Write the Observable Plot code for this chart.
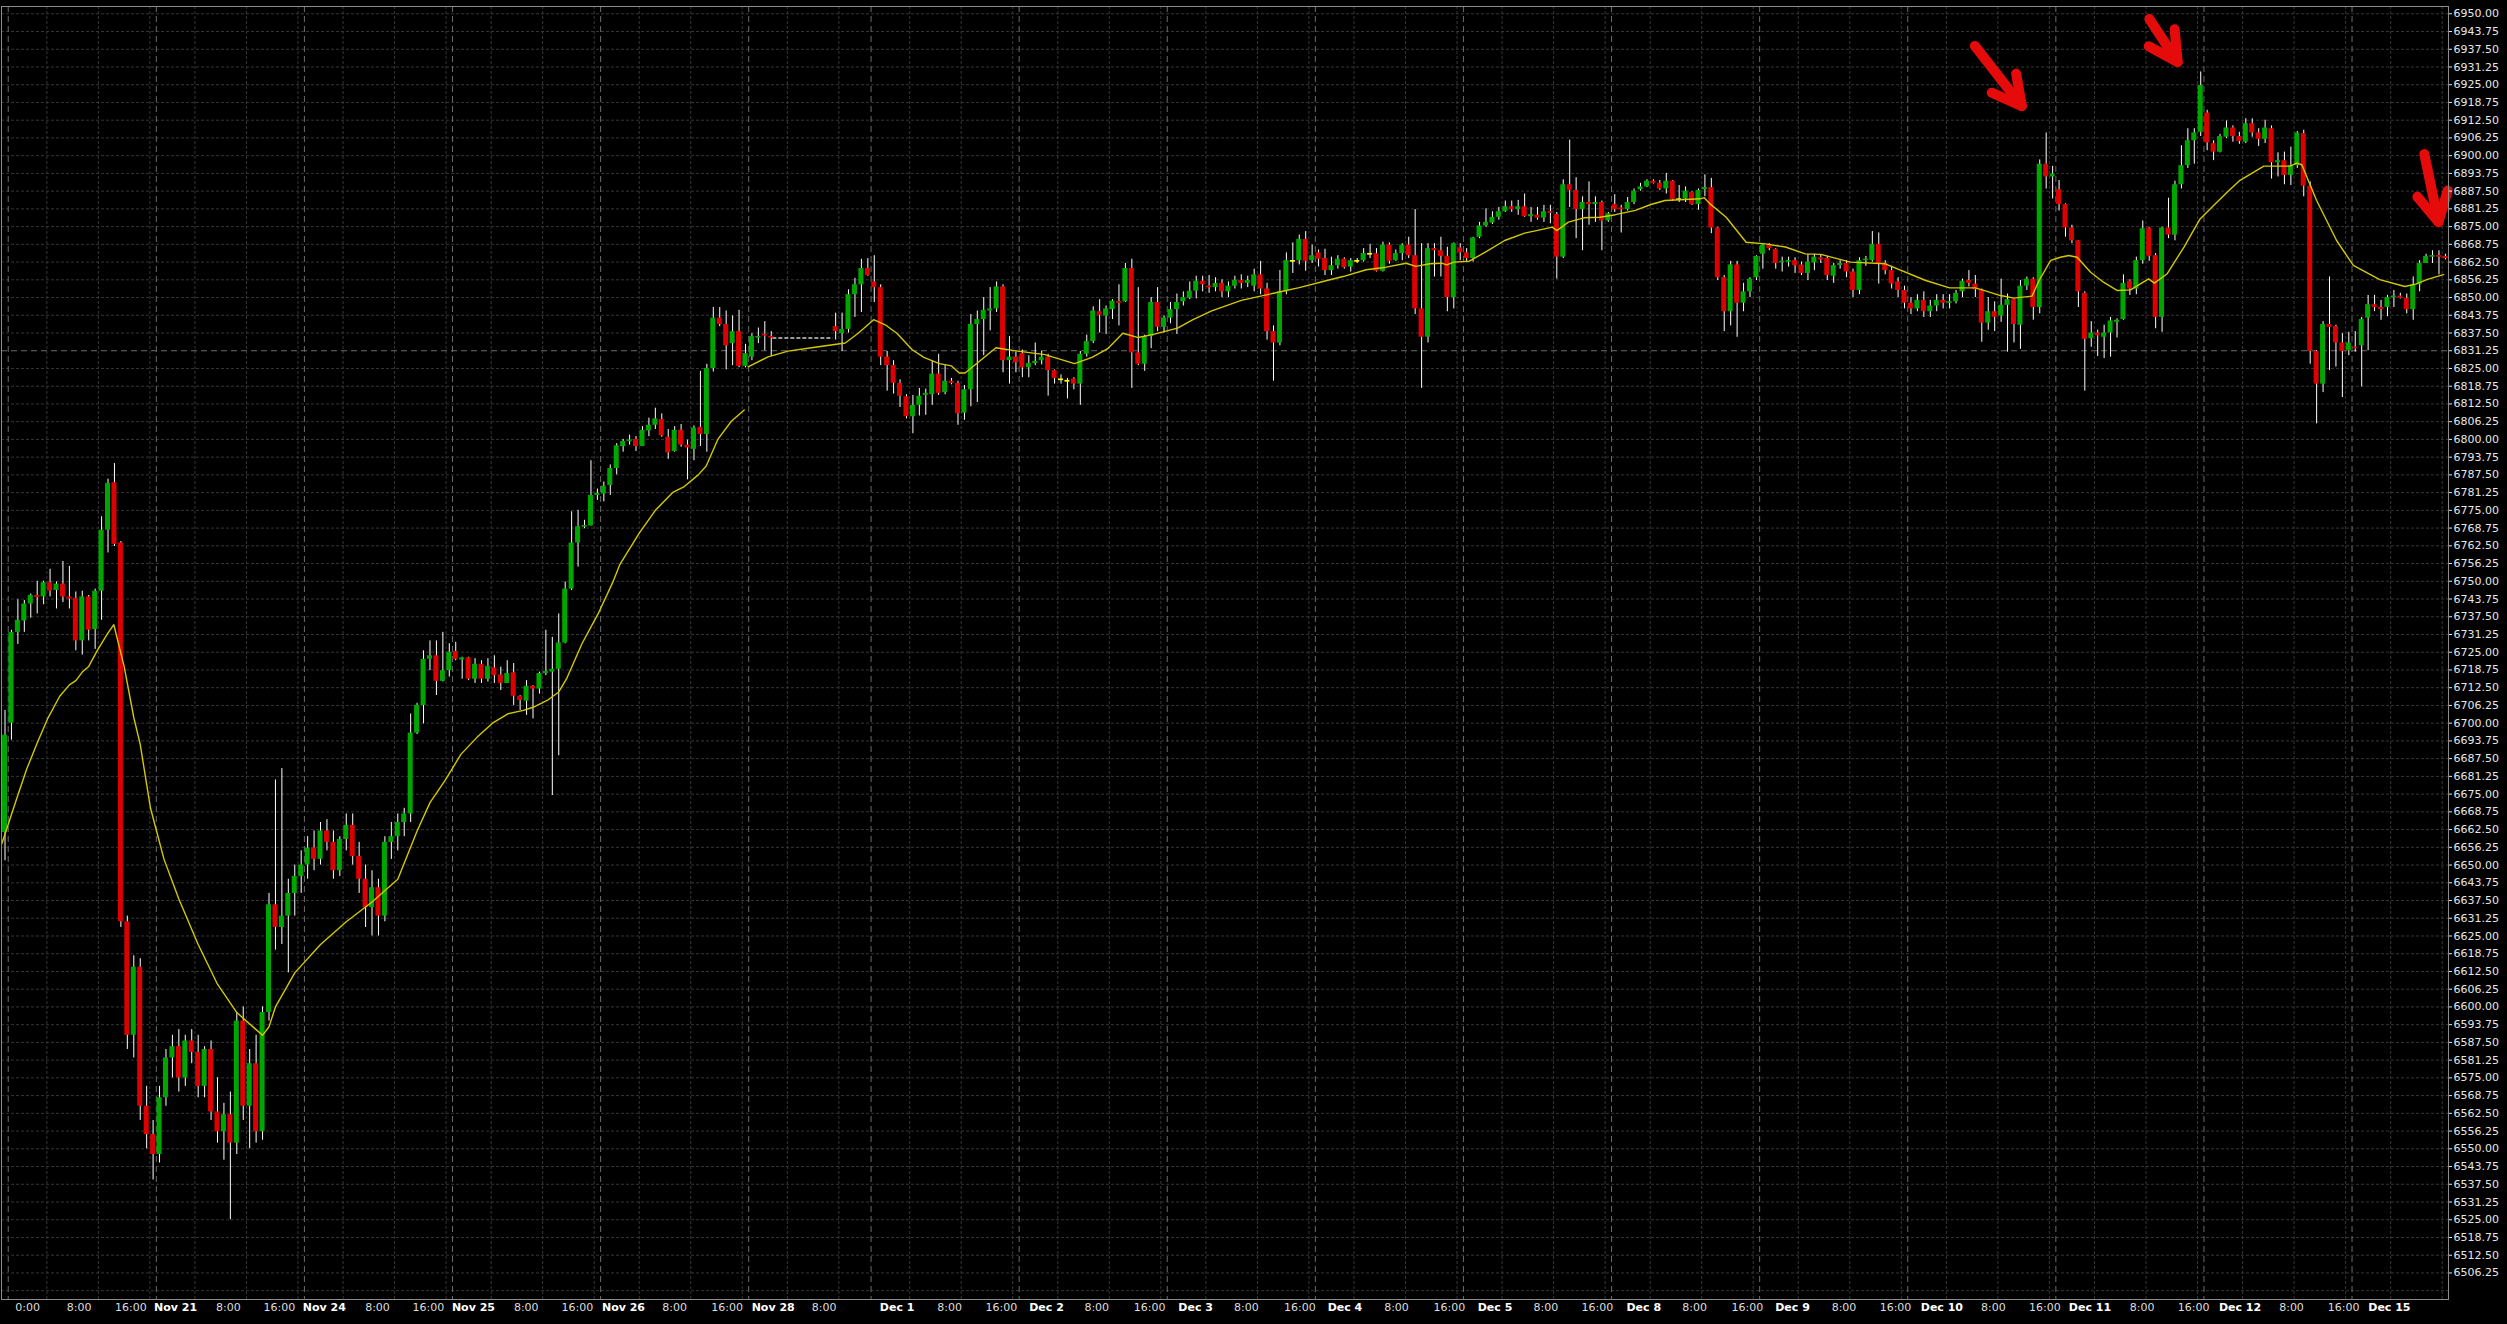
<!DOCTYPE html>
<html>
<head>
<meta charset="utf-8">
<style>
html,body{margin:0;padding:0;background:#000;}
#chart svg{display:block;}
</style>
<script src="https://cdn.jsdelivr.net/npm/d3@7"></script>
<script src="https://cdn.jsdelivr.net/npm/@observablehq/plot@0.6"></script>
</head>
<body>
<div id="chart"></div>
<script>
// ---- Hourly ES candles [open, high, low, close], one array per session ----
const nov19Tail = [[6661.5,6704.5,6651.5,6695.75]];
const nov20 = [
[6700,6732.75,6694,6732],[6732,6743.5,6727.75,6736.25],[6736,6743.25,6732,6742],[6742,6745.5,6737,6745],
[6745,6750,6738.5,6744.25],[6744.5,6750,6741.75,6749.5],[6749.5,6754.25,6744.5,6746.5],[6746.75,6749.75,6740.25,6749],
[6749,6757,6742.5,6744.5],[6744.5,6755.25,6740.25,6743.75],[6744,6746.25,6725.5,6729],[6729,6746.5,6724,6744.5],
[6744.5,6745,6729,6732.75],[6733,6747.25,6726,6746.5],[6746.5,6772.75,6736.25,6768],[6768,6786,6760,6784.5],
[6784.75,6791.5,6762.25,6763],[6763.5,6764,6628,6630],[6630,6632,6585,6590],[6590,6618,6582,6614],
[6614,6617,6560,6565],[6565,6572,6550,6555],[6555,6560,6539,6548]];
const nov21 = [
[6548,6572,6545,6568],[6568,6585,6565,6582],[6582,6590,6575,6586],[6586,6592,6570,6575],
[6575,6590,6572,6588],[6588,6592,6580,6584],[6584,6590,6568,6572],[6572,6586,6568,6585],
[6585,6588,6560,6563],[6563,6575,6552,6556],[6556,6566,6546,6562],[6562,6570,6525,6552],
[6552,6598,6548,6595],[6595,6600,6560,6565],[6565,6585,6550,6580],[6580,6590,6552,6556],
[6556,6600,6553,6598],[6598,6640,6595,6636],[6636,6680,6620,6628],[6628,6684,6622,6632],
[6632,6645,6612,6640],[6640,6650,6632,6646],[6646,6655,6640,6650]];
const nov24 = [
[6650,6660,6645,6656],[6656,6662,6648,6652],[6652,6665,6650,6662],[6662,6666,6655,6658],
[6658,6662,6645,6648],[6648,6660,6646,6659],[6659,6668,6655,6664],[6664,6668,6650,6653],
[6653,6658,6640,6645],[6645,6650,6628,6635],[6635,6648,6625,6642],[6642,6645,6625,6632],
[6632,6660,6630,6658],[6658,6665,6652,6660],[6660,6668,6655,6665],[6665,6670,6660,6668],
[6668,6703.25,6665,6696.5],[6696.5,6707,6696,6706.25],[6706.25,6725.5,6699.75,6722.5],[6722.5,6729,6718.5,6723.75],
[6723.75,6729,6709.75,6714.75],[6714.75,6732,6714.5,6718.5],[6718.5,6728,6716.25,6725]];
const nov25 = [
[6725.25,6728.5,6722,6722.5],[6722.25,6723.25,6715.5,6723],[6723,6723.25,6715,6715.5],[6715.5,6722.75,6714,6720.75],
[6720.75,6722,6714,6715.5],[6715.5,6722.75,6714.5,6720],[6719.5,6723.75,6714,6716.75],[6717,6719.75,6711.5,6714],
[6714,6722,6714,6717.5],[6717.75,6721,6706.25,6709.5],[6709.5,6709.75,6704.5,6708],[6707.75,6715,6702.75,6713],
[6713,6713.25,6701.5,6712],[6712,6718,6710.25,6717.5],[6717.5,6732.75,6716.75,6718.25],[6718,6730.25,6674.5,6719],
[6719,6738.5,6688.5,6728.25],[6728.25,6749.75,6728,6747.25],[6747.25,6774.5,6746.75,6763.5],[6763.5,6775,6755,6769.25],
[6769.25,6771.5,6768.5,6769.5],[6769.5,6792.5,6769.5,6780.25],[6780.25,6782.5,6778.5,6781]];
const nov26 = [
[6780.75,6785,6778,6783.5],[6783.75,6791,6780.25,6789.75],[6789.75,6798.5,6787.5,6797.75],[6797.5,6800,6795.5,6799.25],
[6799.25,6801.5,6798,6799.75],[6800,6801,6795.75,6797.5],[6797.5,6804.5,6797.5,6803.25],[6803,6807.5,6801,6805],
[6805,6811,6803.5,6807.25],[6807,6809,6800.75,6801.25],[6800.75,6803.5,6793,6795.25],[6795.75,6804.5,6795.5,6803.25],
[6803.25,6805.25,6797.25,6798],[6798,6799.75,6785.75,6797],[6796.5,6804.75,6792.5,6804],[6804.25,6824,6797.5,6801.75],
[6801.75,6826.5,6795.5,6825],[6825,6846.5,6823.75,6842.75],[6842.75,6846.5,6839.75,6840.5],[6840.5,6845.25,6824.5,6833],
[6833.75,6843.5,6826,6838],[6838,6845.5,6825.25,6825.75],[6825.75,6833.5,6825.25,6830.25]];
// Nov 28: nine hours without data (exchange outage)
const nov28 = [
[6829,6837.25,6827.75,6836.25],[6835.75,6839.25,6833.75,6836.25],[6837,6841.5,6831.25,6836.5],[6836.25,6838,6829.25,6835.75],
null,null,null,null,null,null,null,null,null,
[6839.75,6844.5,6835,6838],[6837.25,6844.5,6831,6838.75],[6838.75,6852.75,6837.5,6851],[6851,6856.75,6843,6854.5],
[6854.5,6863.5,6844.75,6860.25],[6860.25,6863.75,6857.5,6857.75]];
const dec1 = [
[6855.5,6864.75,6848.25,6853.5],[6853.5,6854.5,6826,6829],[6829,6831,6817,6826],[6826,6827.75,6816,6819.75],
[6819.75,6821,6811.25,6815.25],[6815,6815.75,6807.25,6808],[6808,6815.5,6802,6812],[6812,6818,6808.25,6815.25],
[6815.5,6817.75,6808.5,6816.25],[6815.75,6827.5,6812,6823],[6823,6830,6815.5,6816.25],[6816.5,6826,6815.75,6820.5],
[6820.5,6821.5,6819.25,6819.75],[6819.75,6820.5,6805,6809],[6809.25,6819,6806.75,6817.5],[6817.5,6844,6811.5,6840.5],
[6840.5,6845.25,6813,6842.25],[6842.25,6850,6829.5,6845.5],[6845.25,6853.5,6838.25,6846],[6846,6855.5,6844.75,6853.75],
[6853.75,6854.5,6823.5,6827.75],[6827.75,6836.25,6819.5,6829],[6829,6830.75,6823.5,6827]];
const dec2 = [
[6830.25,6831.5,6821.75,6825.25],[6825.25,6829.5,6821.75,6826.75],[6826.75,6834,6826,6827.5],[6827.75,6831,6826.25,6829],
[6829,6830,6815.25,6824.25],[6824.25,6824.5,6819.5,6821.5],[6821,6822.75,6819.5,6821],[6820.5,6821.5,6814.25,6820.5],
[6821.25,6821.75,6817.5,6819.5],[6819.5,6831,6812,6830],[6830,6836.75,6829,6834.5],[6834.5,6846.75,6833.75,6845.25],
[6845,6849.25,6837.5,6843.75],[6843.5,6847,6837,6846],[6845.75,6849.25,6842.25,6848.75],[6848.5,6854.5,6840,6848],
[6848.5,6862,6848.25,6860.25],[6860.25,6863.5,6818,6830.5],[6830.5,6853.5,6826,6826.5],[6826.5,6836.75,6824,6836.25],
[6836.25,6850,6832,6848.25],[6848.25,6853.5,6838,6839.5],[6839.5,6843.5,6837.5,6842.75]];
const dec3 = [
[6842.75,6848.25,6840.75,6845.75],[6845.75,6851.25,6837,6848.25],[6848.5,6852,6847,6850],[6849.75,6855.5,6849.25,6852.25],
[6852.25,6857.5,6849.5,6855.75],[6855.75,6857.5,6852,6854.5],[6854,6857.75,6851.5,6853.5],[6853.5,6857,6852,6855],
[6855,6856.25,6850,6852],[6852,6855.5,6850,6854],[6854,6857.5,6853,6856],[6856,6858,6853,6855],
[6855,6857.5,6853.5,6856],[6854,6860,6852,6858],[6858,6862.75,6851,6853],[6853,6855,6835,6838],
[6838,6840,6820.5,6834],[6834,6859.5,6833,6852],[6852,6865.75,6851,6863],[6862.75,6869.25,6858.5,6862.75],
[6863,6872,6861.5,6870.5],[6870.5,6873.25,6859.25,6862.75],[6863,6868.5,6862,6864.75]];
const dec4 = [
[6865.75,6866.75,6860.75,6863.5],[6863.75,6867,6857.75,6859.5],[6859.5,6864.25,6857.75,6861.25],[6861.25,6864.75,6860,6863.5],
[6863.5,6864,6860,6860.5],[6860.75,6863.75,6859,6863],[6862.75,6863.75,6862,6862.75],[6863,6867.25,6862.5,6865.5],
[6865.25,6868.75,6863.75,6865.25],[6865.5,6867.25,6859,6859.25],[6859.25,6869.5,6859,6868.5],[6868.5,6869.25,6861.75,6862.75],
[6863,6866.75,6862.75,6865.5],[6865.5,6869,6863,6868.5],[6868.5,6871.25,6863.75,6864.75],[6864.75,6881,6844,6846],
[6846,6869,6818,6836],[6836,6869,6834,6867.25],[6867.25,6869,6857.25,6866.5],[6866.5,6871.25,6857.25,6864.5],
[6864.5,6867.75,6845,6850],[6850,6869.25,6846,6869],[6867.5,6869,6863,6865.75]];
const dec5 = [
[6865.75,6867.25,6862.5,6863.75],[6863.75,6871.25,6862.5,6871],[6871.25,6876.5,6870.75,6875.25],[6875.25,6881.25,6874.75,6876.5],
[6876.25,6880.25,6875.75,6878.25],[6878.25,6881.75,6877.25,6880.25],[6880.25,6884,6880,6882],[6882,6884,6880,6881],
[6881,6884.25,6879,6882],[6882,6886.5,6878.25,6878.5],[6878.5,6881.75,6876.5,6879.25],[6879,6881.75,6877.25,6878],
[6878,6882.5,6876.5,6880.25],[6880.25,6882.5,6876,6879.75],[6879.25,6880,6856.5,6864.25],[6864.25,6891.5,6863.75,6889.75],
[6889.75,6905.5,6881.75,6887.75],[6887.75,6892.25,6870.75,6881],[6881,6885.5,6866.5,6883.5],[6883.5,6890.75,6875.5,6882.75],
[6882.75,6885.5,6876.5,6883.5],[6883.5,6884,6866.5,6877],[6877,6880,6876.5,6879.5]];
const dec8 = [
[6882.75,6886.25,6880,6881],[6881.5,6882.5,6872.75,6881],[6881,6885.25,6880.5,6883.5],[6883.5,6888.25,6882.75,6887.5],
[6888,6890.25,6887.5,6889],[6889,6891.5,6888.75,6891],[6891,6891.5,6890,6890.25],[6890.25,6891.25,6887.75,6888.25],
[6888.25,6893.75,6886.5,6891],[6891,6891.25,6884,6884.5],[6884.5,6889.5,6883.5,6884.5],[6884.75,6889,6883.5,6887.5],
[6887,6887.25,6882.5,6882.75],[6882.75,6888.25,6880.75,6887.75],[6888,6893.25,6885.5,6888.75],[6888.75,6892,6872.5,6874.5],
[6874.5,6874.75,6856,6857],[6857,6857.75,6838,6845],[6845,6862.75,6840,6861.5],[6861.5,6862.75,6836,6848],
[6848,6855,6845,6852],[6852,6857,6850,6856.5],[6857,6864.75,6856,6864.5]];
const dec9 = [
[6865.25,6869,6860,6868.5],[6868.5,6869,6866.5,6867.25],[6867,6867.25,6860,6862],[6862.25,6864.25,6859,6862.75],
[6862.5,6864.25,6860.75,6863],[6863,6864,6858.5,6861.25],[6861.5,6862.5,6857.75,6858.5],[6858.5,6865.25,6856,6862.5],
[6862.25,6865.25,6859.5,6864.25],[6864,6865,6862,6863.25],[6863.75,6864.5,6856,6857.75],[6857.5,6862,6855,6861.25],
[6861.25,6863,6860,6862],[6862,6863,6857,6859],[6859,6860,6850,6852.5],[6852.5,6864,6851,6863],
[6863,6864.5,6861,6863.5],[6863,6873.25,6862.5,6868.75],[6868.75,6872.75,6854.75,6862],[6862,6863,6858,6859.5],
[6859.5,6861,6853,6854.75],[6855.5,6857,6850,6852.5],[6852.5,6854,6846,6848]];
const dec10 = [
[6848,6850,6844,6846],[6846,6851,6845,6849],[6849,6852,6843,6845],[6845,6849,6843,6847],
[6847,6851,6845,6849],[6849,6851,6846,6848],[6848,6851,6846,6848.5],[6848.5,6852.5,6847.75,6851.5],
[6852,6856.5,6850,6855.75],[6856,6859.5,6853.75,6855],[6854.75,6857.75,6850,6852.75],[6852.5,6853,6834.25,6841],
[6841,6850,6838.5,6845],[6845,6848.5,6838,6843],[6843.5,6856.5,6841.25,6847.25],[6847.25,6851.25,6830.75,6849.25],
[6849.25,6849.5,6834,6840.5],[6840.25,6856,6831.75,6854],[6854,6857.25,6852.5,6856.5],[6856.5,6857,6842,6846.5],
[6846.5,6898.5,6844.25,6897],[6897,6908,6888.25,6892.5],[6892.5,6896.25,6884.75,6893.5]];
const dec11 = [
[6888,6891.25,6880.5,6882.75],[6882.75,6883,6871.25,6874.5],[6874.5,6875.5,6869,6870],[6870,6870,6846.5,6852],
[6851.5,6852,6817,6835.25],[6835.5,6841.5,6832.5,6837.5],[6837.5,6838.5,6829.25,6836.5],[6836,6840.25,6828.5,6837.5],
[6837.5,6843,6829,6841.75],[6841.25,6842.5,6835.75,6842],[6842.25,6858,6842,6855],[6855.75,6856.25,6850.75,6853],
[6853,6864.25,6851,6863],[6863,6877,6861.75,6874.25],[6874.5,6874.75,6862.75,6864.5],[6864.75,6865.5,6839,6843],
[6843,6874.75,6837.75,6874.5],[6874.5,6885,6870.75,6872],[6872,6891,6870,6889.75],[6889.75,6903.5,6888.25,6896.5],
[6896.5,6909.5,6895.5,6905.25],[6905.25,6909.5,6897,6908],[6908.25,6929.5,6906.75,6924.75]];
const dec12 = [
[6915,6916,6901.75,6904.5],[6904.25,6905.25,6898.25,6901.25],[6901.25,6907.5,6901,6906.75],[6906.5,6912.25,6906,6909.75],
[6909.75,6910.5,6904.75,6906.75],[6906.75,6908.25,6904,6905],[6904.75,6913,6904.25,6911.25],[6911.25,6913,6906.5,6908],
[6908,6909.5,6903.25,6905.75],[6905.75,6912.5,6904.25,6909.75],[6909.5,6910.5,6891.75,6897.5],[6897.5,6901,6892.5,6898.25],
[6898.25,6901.25,6889.75,6893],[6893,6903,6889.5,6896.5],[6896.5,6908.5,6895.5,6908],[6907.75,6909,6885.5,6889.25],
[6889.25,6890.75,6826.5,6831],[6831,6831.25,6805.5,6819.5],[6819.5,6841.5,6816.5,6840.5],[6840.5,6857.25,6824.25,6839.5],
[6839.75,6840.25,6825.5,6834],[6834,6837.25,6814.75,6831],[6831.25,6837.75,6829.5,6834]];
const dec15 = [
[6832.5,6838,6830.75,6832],[6833,6843,6818.5,6842.25],[6842.75,6850.75,6831.25,6847.5],[6847.5,6850.75,6845,6846.5],
[6846.5,6849,6842,6845.75],[6846.5,6850.75,6843.25,6850],[6850,6852.5,6846.5,6850.5],[6850.5,6851.5,6849.5,6849.75],
[6849.75,6851.25,6844.25,6845.75],[6845.75,6857.25,6842,6854.5],[6854.5,6863,6852,6862],[6862,6865.25,6862,6864.5],
[6864.25,6866.5,6862,6864.75],[6864.75,6866.5,6858,6864.25],[6864.5,6865.25,6863.25,6863.75]];

const sessions = [nov20, nov21, nov24, nov25, nov26, nov28, dec1, dec2, dec3, dec4, dec5, dec8, dec9, dec10, dec11, dec12, dec15];

// ---- moving average, two pieces ----
const maBarA = [-0.5,0.3,1.9,3.4,5,6.6,8.5,10,11,12,13,14.3,15.9,16.9,18.5,20,21,22.6,24.7,27,30,33,36,39,40,41,42,45,49,53,57,61,64,66,68.4,70.8,73.3,75.7,78.1,80.5,82,84.2,86,87.2,89.6,92.1,94.4,95.5,98.5,101,103.7,105.5,107.7,108.9,110.7,112.8,114.8];
const maValA = [6657.5,6663,6674,6684,6693,6701.5,6709.5,6713.5,6715,6718,6720,6725.5,6731.5,6734.7,6720,6702,6692.5,6670,6652,6638,6622,6608,6598,6592,6590,6593,6600,6612,6622,6630,6637,6645,6662,6672,6680,6689,6695,6700,6703.3,6704.5,6705.6,6708,6711,6715.6,6728,6738.5,6749.7,6756,6767,6775,6781.3,6783.4,6787.6,6790.6,6800,6806.4,6810.4];
const maBarB = [115.4,118.5,121.6,125.8,130.5,132.5,134.9,136.7,138.5,140.9,142.7,145.1,147,148.2,149.1,153.9,156.7,161.5,166.1,168.8,171.2,173.6,176,178.5,182.1,184.5,187.4,192,197,201,205.3,207.8,211.4,214.5,217.6,219.1,221.3,223.1,223.9,225,227.4,229.9,232.9,236,239.1,240.3,241,242.8,245.2,247.7,250.1,253.2,255.6,257.8,263.3,263.9,264.8,267.3,270.4,273.4,276.5,279.6,282,286.6,292,298.3,302,306,307.3,309.9,312,314.8,315.9,317.7,319.2,320.5,321.8,323.9,325.9,328,330.1,332.9,333.8,335.8,338.4,340.9,343,345.1,347.1,350.8,354.9,355.9,356.7,359,362.1,364.7,368.8,372.7,374.5,376.1,378.7];
const maValB = [6825.6,6829.1,6831.1,6832.5,6834,6837.4,6842.2,6840.4,6837.4,6831.6,6828.9,6826.7,6825.9,6823.4,6823.4,6832.3,6831.3,6829.9,6826.7,6828.9,6831.9,6837.4,6835.9,6837.1,6839.2,6842.2,6845.3,6849,6851.5,6853.5,6856,6857.4,6859.8,6860.7,6862.1,6861,6861.9,6862.1,6861.5,6862.5,6862.8,6866,6870.1,6872.7,6874.2,6874.8,6873.6,6876.6,6878.1,6878.3,6879.2,6880.7,6882.8,6884.2,6884.8,6885.2,6883,6878.3,6869.5,6868.9,6867.8,6865.4,6865.2,6862.5,6861.9,6856,6853.4,6853.4,6852.5,6850.7,6849.8,6850.5,6856,6863.1,6864.2,6864.8,6864.2,6858.9,6855.4,6852.5,6852.7,6856.6,6855.1,6858.4,6867.8,6877.7,6882.4,6887.1,6891.3,6896.3,6896.3,6897.4,6896.8,6884.2,6870.1,6861.3,6856.3,6853.9,6854.8,6856.3,6858.1];

// ---- axis labels ----
const tickText = ["0:00","8:00","16:00","Nov 21","8:00","16:00","Nov 24","8:00","16:00","Nov 25","8:00","16:00","Nov 26","8:00","16:00","Nov 28","8:00","Dec 1","8:00","16:00","Dec 2","8:00","16:00","Dec 3","8:00","16:00","Dec 4","8:00","16:00","Dec 5","8:00","16:00","Dec 8","8:00","16:00","Dec 9","8:00","16:00","Dec 10","8:00","16:00","Dec 11","8:00","16:00","Dec 12","8:00","16:00","Dec 15"];
const tickAt = [3.5,11.5,19.55,26.5,34.7,42.6,49.6,57.85,65.75,72.75,80.95,88.9,96.05,104,112.15,119.3,127.2,138.55,146.7,154.75,161.75,169.55,177.75,184.9,192.8,201.1,208.1,216.1,224.3,231.4,239.3,247.3,254.5,262.4,270.6,277.6,285.6,293.6,300.8,308.8,316.8,323.8,331.9,339.9,347.1,355.1,363.2,370.3];
const priceStep = 6.25, priceMin = 6500, priceMax = 6950, labelMin = 6506.25;
const refLevel = 6831.25;

// ---- annotations: red arrows (tail bar/price -> tip bar/price) ----
const arrowTail = [[306.0,6938.5],[333.1,6948.0],[375.8,6900.4]];
const arrowTip  = [[313.3,6917.3],[337.5,6932.8],[378.0,6876.4]];

// ================== build ==================
const all = [...nov19Tail];
const dayStart = [];
for (const s of sessions) { dayStart.push(all.length); all.push(...s); }
const bars = [];
all.forEach((r, i) => { if (r) bars.push({i, o: r[0], h: r[1], l: r[2], c: r[3]}); });
bars.forEach(b => {
  const top = Math.max(b.o, b.c), bot = Math.min(b.o, b.c);
  if (top - bot < 0.6) { const m = (top + bot) / 2; b.top = m + 0.3; b.bot = m - 0.3; }
  else { b.top = top; b.bot = bot; }
});
const up = bars.filter(b => b.c > b.o), down = bars.filter(b => b.c < b.o), flat = bars.filter(b => b.c === b.o);

const missing = all.map((r, i) => r ? null : i).filter(i => i !== null);
const gapFrom = missing[0] - 1, gapTo = missing[missing.length - 1] + 1;

const dayLines = dayStart.map(s => s - 0.5);
const sessLen = sessions.map(s => s.length);
const intraLines = [];
dayStart.forEach((s, k) => { for (const off of [6, 14, 22]) if (off < sessLen[k]) intraLines.push(s + off - 0.5); });

const gridPrices = d3.range(priceMin, priceMax + 0.001, priceStep);
const labelPrices = gridPrices.filter(p => p >= labelMin);

const ma = [
  ...maBarA.map((u, k) => ({u, v: maValA[k], seg: "a"})),
  ...maBarB.map((u, k) => ({u, v: maValB[k], seg: "b"}))
];
const ticks = tickText.map((t, k) => ({u: tickAt[k], t, bold: /^[A-Z]/.test(t)}));
const arrows = arrowTail.map((a, k) => ({x1: a[0], y1: a[1], x2: arrowTip[k][0], y2: arrowTip[k][1]}));

const halfBody = 0.39;

function handArrows(index, scales) {
  const g = d3.create("svg:g")
    .attr("fill", "none").attr("stroke", "#e60b0b")
    .attr("stroke-width", 10).attr("stroke-linecap", "round").attr("stroke-linejoin", "round");
  for (const a of arrows) {
    const x1 = scales.x(a.x1), y1 = scales.y(a.y1), x2 = scales.x(a.x2), y2 = scales.y(a.y2);
    const ang = Math.atan2(y1 - y2, x1 - x2), L = 33, sp = 28 * Math.PI / 180;
    const w1 = [x2 + L * Math.cos(ang - sp), y2 + L * Math.sin(ang - sp)];
    const w2 = [x2 + L * Math.cos(ang + sp), y2 + L * Math.sin(ang + sp)];
    g.append("path").attr("d", `M${x1},${y1}L${x2},${y2}`);
    g.append("path").attr("d", `M${w1[0]},${w1[1]}L${x2},${y2}L${w2[0]},${w2[1]}`);
  }
  return g.node();
}

const chart = Plot.plot({
  width: 2507,
  height: 1324,
  marginTop: 6,
  marginBottom: 25,
  marginLeft: 1,
  marginRight: 59,
  style: {background: "#000", color: "#e0e0e0", fontFamily: "DejaVu Sans, sans-serif", fontSize: "11px"},
  x: {type: "linear", domain: [-0.5436, 379.48], axis: null},
  y: {type: "linear", domain: [6496.89, 6952.57], axis: null},
  marks: [
    Plot.ruleY(gridPrices.filter(p => p !== refLevel), {stroke: "#363636", strokeDasharray: "3,2"}),
    Plot.ruleX(intraLines, {stroke: "#363636", strokeDasharray: "3,2"}),
    Plot.ruleX(dayLines, {stroke: "#6c6c6c", strokeDasharray: "6,4"}),
    Plot.ruleY([refLevel], {stroke: "#6c6c6c", strokeDasharray: "6,4"}),
    Plot.ruleY([all[gapFrom][3]], {x1: gapFrom + 0.25, x2: gapTo - 0.4, stroke: "#9a9a9a", strokeWidth: 2, strokeDasharray: "4,2"}),
    Plot.ruleX(bars, {x: "i", y1: "l", y2: "h", stroke: "#ffffff", strokeWidth: 1}),
    Plot.rect(up, {x1: d => d.i - halfBody, x2: d => d.i + halfBody, y1: "bot", y2: "top", fill: "#00a600"}),
    Plot.rect(down, {x1: d => d.i - halfBody, x2: d => d.i + halfBody, y1: "bot", y2: "top", fill: "#dc0000"}),
    Plot.rect(flat, {x1: d => d.i - halfBody, x2: d => d.i + halfBody, y1: "bot", y2: "top", fill: "#ffff00"}),
    Plot.line(ma, {x: "u", y: "v", z: "seg", stroke: "#d2c800", strokeWidth: 1.4}),
    handArrows,
    Plot.frame({stroke: "#8c8c8c"}),
    Plot.axisY(labelPrices, {anchor: "right", tickFormat: d => d.toFixed(2), tickSize: 3, tickPadding: 2, color: "#e6e6e6", fontSize: 11}),
    Plot.text(ticks.filter(d => !d.bold), {x: "u", text: "t", frameAnchor: "bottom", dy: 11, fill: "#dedede", fontSize: 11}),
    Plot.text(ticks.filter(d => d.bold), {x: "u", text: "t", frameAnchor: "bottom", dy: 11, fill: "#ffffff", fontSize: 11, fontWeight: "bold"})
  ]
});
document.getElementById("chart").appendChild(chart);
</script>
</body>
</html>
